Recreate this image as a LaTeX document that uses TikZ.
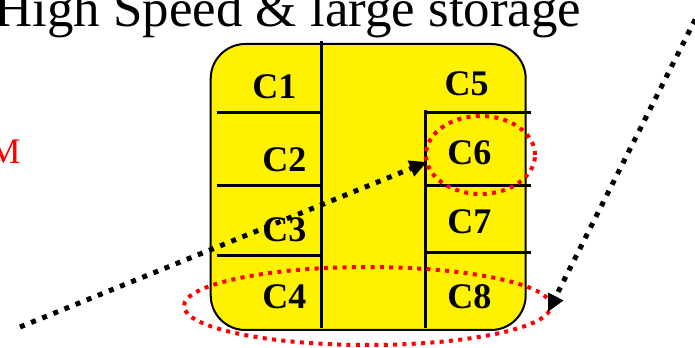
\documentclass[tikz,border=0pt]{standalone}
\usepackage{fontspec}
\setmainfont{Liberation Serif}
\usetikzlibrary{arrows.meta,shapes.geometric}
\begin{document}
\begin{tikzpicture}[x=0.75pt,y=-0.75pt,
  cell/.style={font=\fontsize{27}{30}\selectfont\bfseries, inner sep=0pt},
  wall/.style={line width=2.25pt},
  hop/.style={line width=3.75pt, dash pattern=on 3.75pt off 5.25pt,
    -{Triangle[length=13pt,width=12pt]}},
  ring/.style={draw=red, line width=3pt, dash pattern=on 3pt off 4pt,
    ellipse, inner sep=0pt}
]
\useasboundingbox (0,0) rectangle (695,348);

% heading
\node[font=\fontsize{39.7}{44}\selectfont, anchor=base west, inner sep=0pt]
  (title) at (-6,26.7) {High Speed \& large storage};
\node[text=red, font=\fontsize{27}{30}\selectfont, anchor=base east, inner sep=0pt]
  (mlabel) at (21,164) {M};

% cache block
\draw[fill=yellow, line width=1.5pt, rounded corners=26pt]
  (210.7,44) rectangle (525.7,330);
\draw[wall] (321.7,41) -- (321.7,328);
\draw[wall] (425.7,110) -- (425.7,328);
\foreach \yy in {112.7,185.3,255.7} \draw[wall] (216.7,\yy) -- (321.7,\yy);
\foreach \yy in {112.7,185.3,252.3} \draw[wall] (425.7,\yy) -- (530.7,\yy);

\node[cell] (c1) at (274.3,86.7) {C1};
\node[cell] (c2) at (284.3,160) {C2};
\node[cell] (c3) at (284.3,230) {C3};
\node[cell] (c4) at (284.3,296.7) {C4};
\node[cell] (c5) at (466.7,83.3) {C5};
\node[cell] (c6) at (469.3,152.7) {C6};
\node[cell] (c7) at (469.3,221.7) {C7};
\node[cell] (c8) at (469.3,296.7) {C8};

% highlighted sets
\node[ring, minimum width=81.75pt, minimum height=58.5pt] (ring6) at (480.5,155) {};
\node[ring, minimum width=275.25pt, minimum height=58.5pt] (ringlow) at (367.5,306) {};

% access paths
\coordinate (src1) at (20,327);
\coordinate (tip6) at (427,162);
\draw[hop] (src1) -- (tip6);
\coordinate (src2) at (706,-2);
\coordinate (tiplow) at (548,312);
\draw[hop] (src2) -- (tiplow);
\end{tikzpicture}
\end{document}
